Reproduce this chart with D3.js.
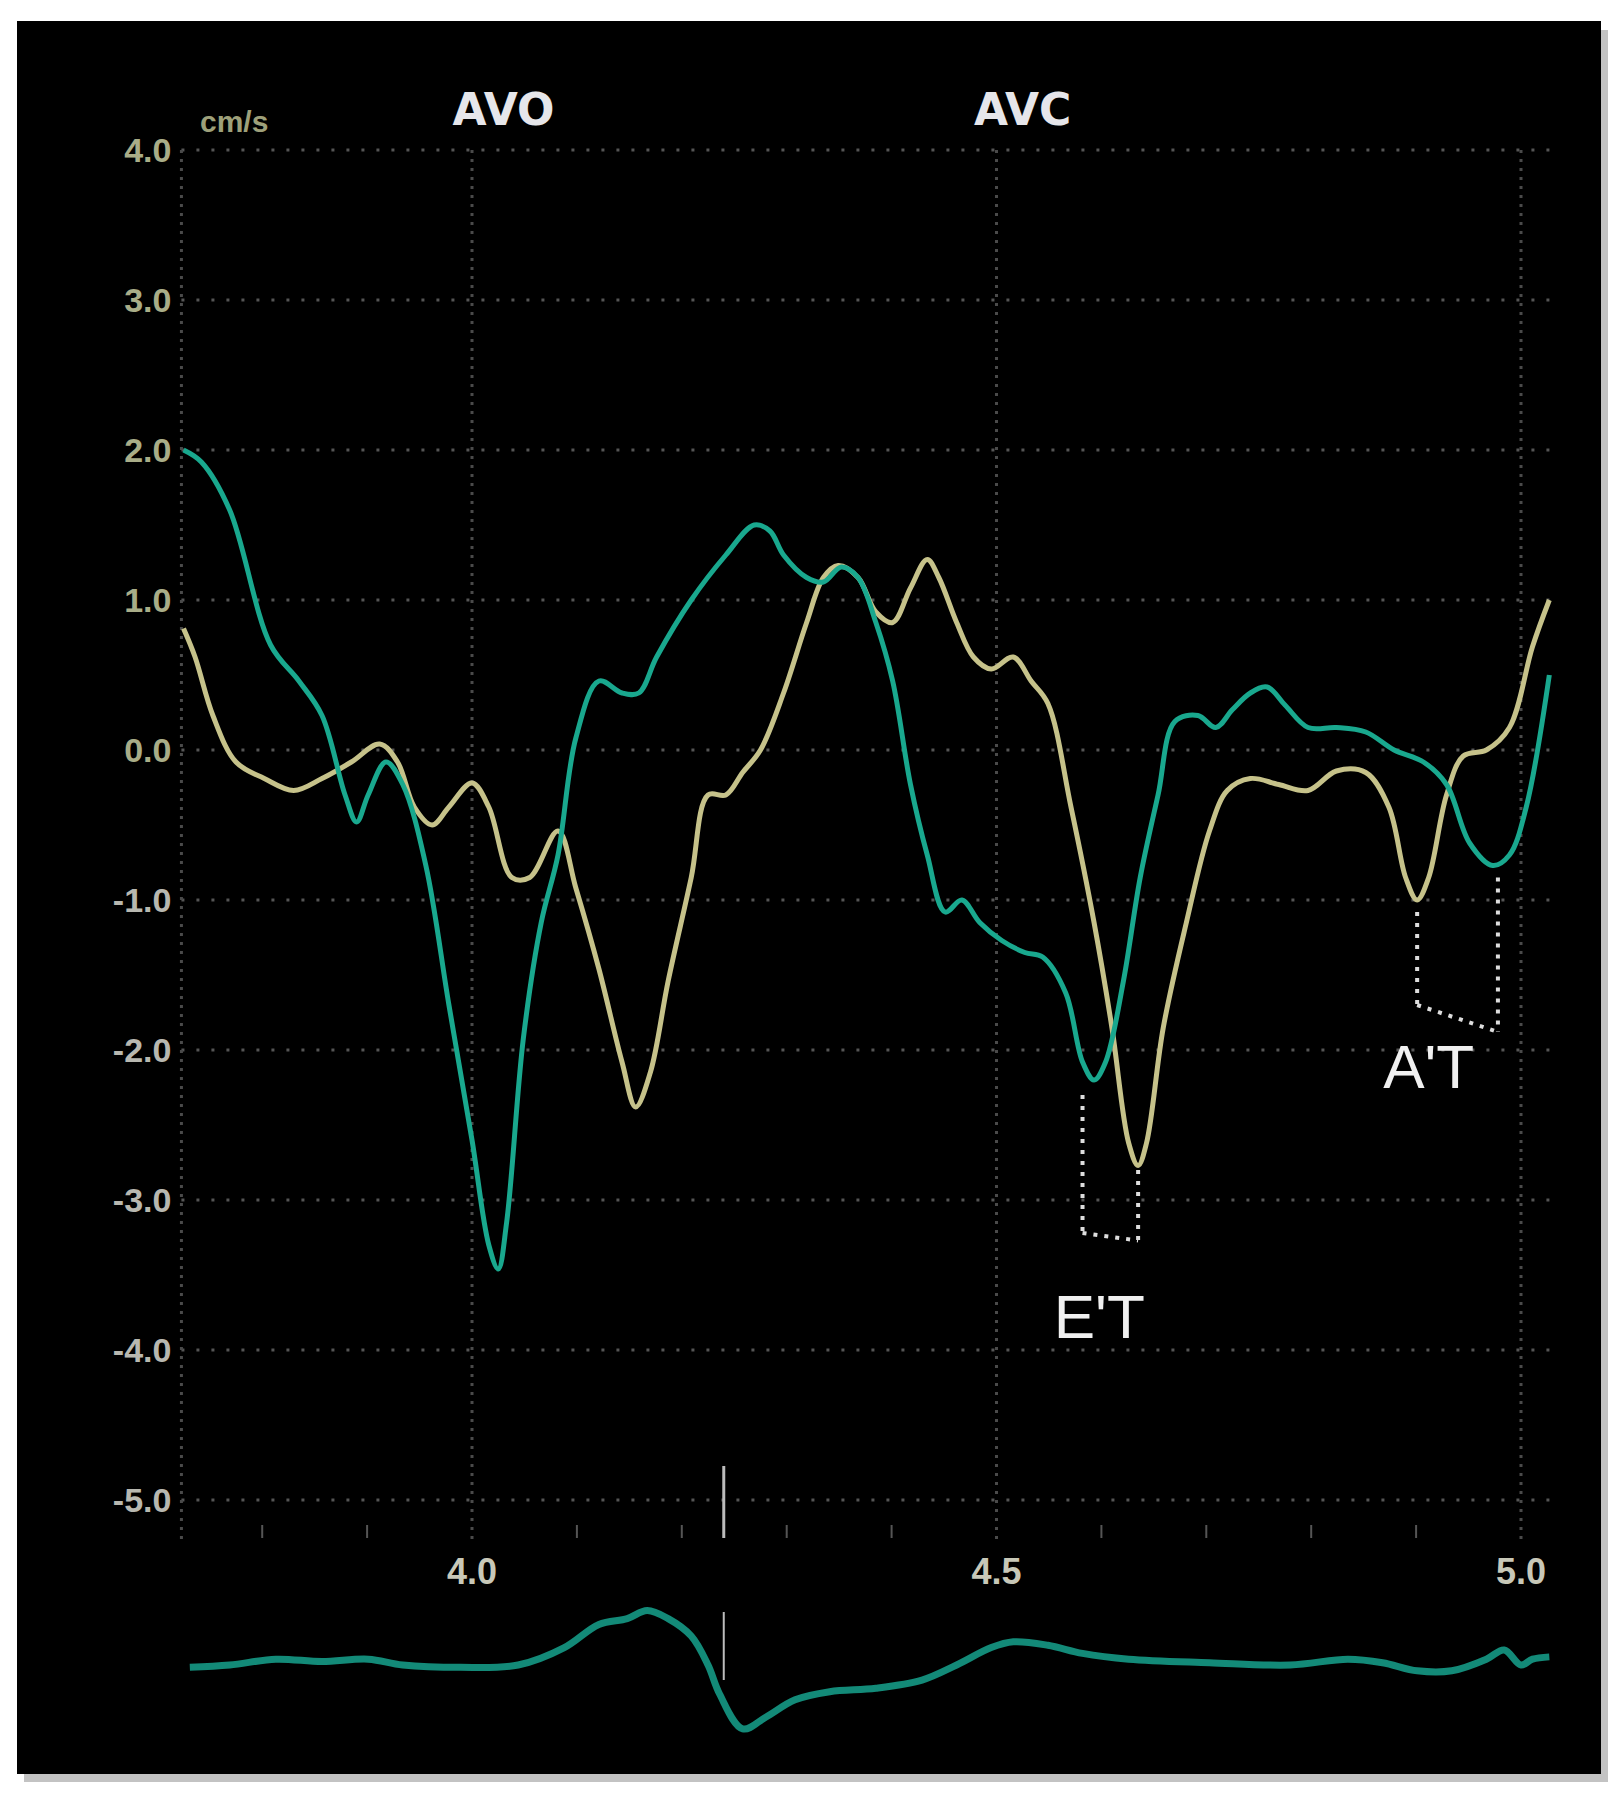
<!DOCTYPE html>
<html><head><meta charset="utf-8">
<script src="https://cdn.jsdelivr.net/npm/d3@7"></script>
<style>body{margin:0;background:#fff}</style>
</head><body>
<svg id="chart" width="1618" height="1798"></svg>
<script>
// velocity ticks (cm/s) and time ticks (s)
const yTicks = [4, 3, 2, 1, 0, -1, -2, -3, -4, -5];
const xTicks = [4.0, 4.5, 5.0];
const xMinorTicks = [3.8, 3.9, 4.1, 4.2, 4.3, 4.4, 4.6, 4.7, 4.8, 4.9];

// teal velocity trace
const tealT = [3.725,3.742,3.769,3.808,3.835,3.857,3.879,3.890,3.901,3.918,3.934,3.956,3.978,4.0,4.016,4.025,4.033,4.049,4.066,4.082,4.099,4.121,4.143,4.159,4.176,4.209,4.242,4.269,4.284,4.297,4.319,4.335,4.352,4.368,4.385,4.401,4.418,4.434,4.451,4.467,4.484,4.505,4.527,4.544,4.566,4.582,4.593,4.604,4.621,4.637,4.654,4.670,4.692,4.709,4.725,4.742,4.758,4.775,4.797,4.824,4.852,4.879,4.907,4.929,4.951,4.973,4.989,5.005,5.027];
const tealV = [2.0,1.92,1.6,0.7,0.46,0.23,-0.3,-0.48,-0.3,-0.08,-0.23,-0.77,-1.7,-2.6,-3.3,-3.46,-3.15,-1.92,-1.15,-0.7,0.08,0.46,0.38,0.38,0.62,1.0,1.3,1.5,1.46,1.3,1.15,1.12,1.22,1.15,0.85,0.46,-0.23,-0.7,-1.08,-1.0,-1.15,-1.27,-1.35,-1.38,-1.62,-2.08,-2.2,-2.08,-1.54,-0.85,-0.3,0.19,0.23,0.15,0.27,0.38,0.42,0.3,0.15,0.15,0.12,0.0,-0.08,-0.23,-0.62,-0.77,-0.7,-0.38,0.5];

// yellow velocity trace
const yellowT = [3.725,3.736,3.753,3.775,3.802,3.830,3.857,3.885,3.912,3.929,3.945,3.962,3.978,4.0,4.016,4.038,4.055,4.082,4.099,4.121,4.143,4.156,4.170,4.187,4.209,4.225,4.242,4.258,4.275,4.297,4.319,4.335,4.349,4.368,4.385,4.401,4.418,4.434,4.445,4.462,4.478,4.495,4.516,4.533,4.549,4.571,4.593,4.610,4.626,4.635,4.643,4.659,4.681,4.703,4.720,4.742,4.769,4.797,4.824,4.852,4.874,4.890,4.901,4.912,4.929,4.945,4.967,4.989,5.011,5.027];
const yellowV = [0.81,0.62,0.23,-0.08,-0.19,-0.27,-0.19,-0.08,0.04,-0.08,-0.38,-0.5,-0.38,-0.22,-0.38,-0.85,-0.85,-0.54,-0.92,-1.46,-2.08,-2.38,-2.15,-1.54,-0.85,-0.3,-0.3,-0.15,0.0,0.38,0.85,1.15,1.23,1.15,0.92,0.85,1.08,1.27,1.15,0.85,0.62,0.54,0.62,0.46,0.31,-0.38,-1.15,-1.85,-2.62,-2.77,-2.62,-1.85,-1.15,-0.54,-0.27,-0.19,-0.23,-0.27,-0.14,-0.15,-0.38,-0.85,-1.0,-0.85,-0.3,-0.04,0.0,0.15,0.69,1.0];

// ECG trace (arbitrary units)
const ecgT = [3.731,3.769,3.813,3.857,3.901,3.934,3.989,4.044,4.088,4.121,4.148,4.167,4.187,4.209,4.225,4.236,4.258,4.280,4.308,4.341,4.385,4.429,4.462,4.495,4.516,4.549,4.582,4.626,4.703,4.780,4.835,4.868,4.901,4.934,4.967,4.984,5.0,5.011,5.027];
const ecgV = [-0.04,0,0.1,0.06,0.1,0,-0.04,0,0.3,0.7,0.8,0.94,0.8,0.5,0,-0.5,-1.1,-0.9,-0.6,-0.46,-0.4,-0.26,0,0.3,0.4,0.34,0.2,0.1,0.04,0,0.1,0.04,-0.1,-0.1,0.1,0.26,0,0.1,0.14];

const markerT = 4.24;
const eventLabels = [{text: "AVO", t: 4.03}, {text: "AVC", t: 4.525}];
// dotted annotation guides [t, v1, v2]
const etGuides = [[4.582, -2.3, -3.22], [4.635, -2.8, -3.27]];
const atGuides = [[4.901, -1.08, -1.7], [4.978, -0.85, -1.88]];

const svg = d3.select('#chart');
const x = d3.scaleLinear().domain([4.0, 5.0]).range([472, 1521]);
const y = d3.scaleLinear().domain([4, -5]).range([150, 1500]);
const yEcg = d3.scaleLinear().domain([0, 1]).range([1665, 1607]);
const x0 = x(3.723), x1 = x(5.03);

// panel with shadow
svg.append('rect').attr('x', 24).attr('y', 30).attr('width', 1584).attr('height', 1752).attr('fill', '#888').attr('opacity', 0.5);
svg.append('rect').attr('x', 17).attr('y', 21).attr('width', 1584).attr('height', 1753).attr('fill', '#000');

// grid
svg.append('g').selectAll('line').data(yTicks).join('line')
    .attr('x1', x0).attr('x2', x1).attr('y1', d => y(d)).attr('y2', d => y(d))
    .attr('stroke', '#555').attr('stroke-width', 3).attr('stroke-dasharray', '3,12');
svg.append('g').selectAll('line').data([3.723, ...xTicks]).join('line')
    .attr('x1', d => x(d)).attr('x2', d => x(d)).attr('y1', y(4)).attr('y2', y(-5) + 40)
    .attr('stroke', '#4a4a4a').attr('stroke-width', 3).attr('stroke-dasharray', '3,6');
svg.append('g').selectAll('line').data(xMinorTicks).join('line')
    .attr('x1', d => x(d)).attr('x2', d => x(d)).attr('y1', y(-5) + 25).attr('y2', y(-5) + 38)
    .attr('stroke', '#555').attr('stroke-width', 2);

// axis labels
svg.append('g').selectAll('text').data(yTicks).join('text')
    .attr('x', x0 - 10).attr('y', d => y(d) + 12).attr('text-anchor', 'end')
    .attr('font-family', 'Liberation Sans Narrow, Liberation Sans, sans-serif').attr('font-weight', 'bold')
    .attr('font-size', 34).attr('fill', d => d >= 0 ? '#a9ad88' : '#b8b8b0')
    .text(d => d.toFixed(1));
svg.append('g').selectAll('text').data(xTicks).join('text')
    .attr('x', d => x(d)).attr('y', 1584).attr('text-anchor', 'middle')
    .attr('font-family', 'Liberation Sans Narrow, Liberation Sans, sans-serif').attr('font-weight', 'bold')
    .attr('font-size', 36).attr('fill', '#c8c8b8').text(d => d.toFixed(1));
svg.append('text').attr('x', 200).attr('y', 132).attr('font-family', 'Liberation Sans, sans-serif')
    .attr('font-weight', 'bold').attr('font-size', 30).attr('fill', '#9ea07a').text('cm/s');
svg.append('g').selectAll('text').data(eventLabels).join('text')
    .attr('x', d => x(d.t)).attr('y', 125).attr('text-anchor', 'middle')
    .attr('font-family', 'DejaVu Sans, sans-serif').attr('font-weight', 'bold')
    .attr('font-size', 44).attr('fill', '#e6e6ea').text(d => d.text);

// marker
svg.append('line').attr('x1', x(markerT)).attr('x2', x(markerT)).attr('y1', 1466).attr('y2', 1538)
    .attr('stroke', '#bbb').attr('stroke-width', 3);
svg.append('line').attr('x1', x(markerT)).attr('x2', x(markerT)).attr('y1', 1612).attr('y2', 1680)
    .attr('stroke', '#bbb').attr('stroke-width', 2);

// traces
const line = d3.line().x(d => x(d[0])).y(d => d[1]).curve(d3.curveCatmullRom);
svg.append('path').attr('d', line(d3.zip(yellowT, yellowV.map(v => y(v)))))
    .attr('fill', 'none').attr('stroke', '#c6c28a').attr('stroke-width', 5);
svg.append('path').attr('d', line(d3.zip(tealT, tealV.map(v => y(v)))))
    .attr('fill', 'none').attr('stroke', '#19a88e').attr('stroke-width', 5);
svg.append('path').attr('d', line(d3.zip(ecgT, ecgV.map(v => yEcg(v)))))
    .attr('fill', 'none').attr('stroke', '#138a78').attr('stroke-width', 7);

// dotted guides
const guide = svg.append('g').attr('stroke', '#ddd').attr('stroke-width', 4).attr('stroke-dasharray', '4,7').attr('fill', 'none');
etGuides.forEach(g => guide.append('line').attr('x1', x(g[0])).attr('x2', x(g[0])).attr('y1', y(g[1])).attr('y2', y(g[2])));
guide.append('line').attr('x1', x(etGuides[0][0])).attr('x2', x(etGuides[1][0])).attr('y1', y(etGuides[0][2])).attr('y2', y(etGuides[1][2]));
atGuides.forEach(g => guide.append('line').attr('x1', x(g[0])).attr('x2', x(g[0])).attr('y1', y(g[1])).attr('y2', y(g[2])));
guide.append('line').attr('x1', x(atGuides[0][0])).attr('x2', x(atGuides[1][0])).attr('y1', y(atGuides[0][2])).attr('y2', y(atGuides[1][2]));

svg.append('text').attr('x', x(4.598)).attr('y', y(-3.92)).attr('text-anchor', 'middle')
    .attr('font-family', 'Liberation Sans, sans-serif').attr('font-size', 62).attr('fill', '#f0f0f0').text("E'T");
svg.append('text').attr('x', x(4.912)).attr('y', y(-2.25)).attr('text-anchor', 'middle')
    .attr('font-family', 'Liberation Sans, sans-serif').attr('font-size', 62).attr('fill', '#f0f0f0').text("A'T");
</script>
</body></html>
